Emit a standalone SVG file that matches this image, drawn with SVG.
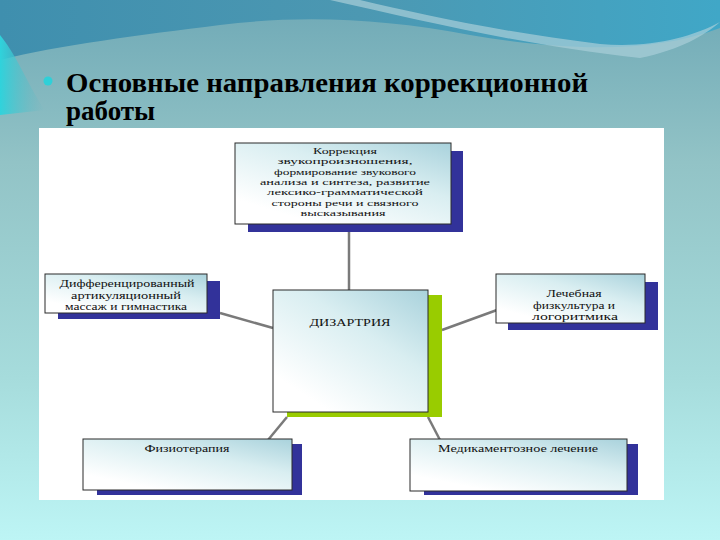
<svg xmlns="http://www.w3.org/2000/svg" width="720" height="540" viewBox="0 0 720 540">
<defs>
<linearGradient id="bg" x1="0" y1="0" x2="0" y2="1">
<stop offset="0" stop-color="#6fa9b6"/>
<stop offset="0.3" stop-color="#92c3c6"/>
<stop offset="0.7" stop-color="#a6dcdc"/>
<stop offset="1" stop-color="#bdf5f5"/>
</linearGradient>
<linearGradient id="wave" x1="0" y1="0" x2="1" y2="0">
<stop offset="0" stop-color="#3f8fae"/>
<stop offset="0.5" stop-color="#4c98b2"/>
<stop offset="1" stop-color="#40a7c7"/>
</linearGradient>
<linearGradient id="cyan" x1="0" y1="0" x2="1" y2="0">
<stop offset="0" stop-color="#2fd3dc"/>
<stop offset="1" stop-color="#5fb5c0" stop-opacity="0"/>
</linearGradient>
<linearGradient id="box" x1="1" y1="0" x2="0.25" y2="0.9">
<stop offset="0" stop-color="#a9d2dc"/>
<stop offset="0.45" stop-color="#d9eef1"/>
<stop offset="1" stop-color="#ffffff"/>
</linearGradient>
<style>
.box{fill:url(#box);stroke:#2a2a2a;stroke-width:1}
.sh{fill:#32329a}
.shg{fill:#99cc00}
.t{font-family:"Liberation Serif","DejaVu Serif",serif;font-size:10px;fill:#111;text-anchor:middle}
.ts{font-size:9px}
.c{stroke:#7a7a7a;stroke-width:2.5;fill:none}
.title{font-family:"Liberation Serif","DejaVu Serif",serif;font-weight:bold;font-size:27px;fill:#000}
</style>
</defs>
<rect width="720" height="540" fill="url(#bg)"/>
<path d="M0 0 H720 V28 C650 55 560 50 470 35 C380 18 300 15 220 25 C140 35 60 45 0 60 Z" fill="url(#wave)"/>
<path d="M330 0 C420 20 520 45 640 58 C680 50 705 35 720 22 C690 38 650 48 600 44 C500 32 420 14 360 0 Z" fill="#a9cfd8" opacity="0.7"/>
<path d="M0 35 C20 60 30 90 45 110 L0 115 Z" fill="url(#cyan)"/>
<circle cx="48" cy="81" r="4.5" fill="#2fd0d8"/>
<text class="title" x="66" y="92" textLength="522" lengthAdjust="spacingAndGlyphs">Основные направления коррекционной</text>
<text class="title" x="66" y="120">работы</text>
<rect x="39" y="128" width="625" height="372" fill="#ffffff"/>
<g id="connectors">
<line class="c" x1="349" y1="224" x2="349" y2="290"/>
<line class="c" x1="220" y1="313" x2="273" y2="328"/>
<line class="c" x1="442" y1="330" x2="497" y2="310"/>
<line class="c" x1="287" y1="417" x2="268" y2="440"/>
<line class="c" x1="428" y1="417" x2="440" y2="440"/>
</g>
<g id="node-correction">
<rect class="sh" x="248" y="151" width="215" height="81"/>
<rect class="box" x="235" y="143" width="216" height="81"/>
<text class="t ts" x="345" y="154" textLength="64" lengthAdjust="spacingAndGlyphs">Коррекция</text>
<text class="t ts" x="345" y="164.3" textLength="135" lengthAdjust="spacingAndGlyphs">звукопроизношения,</text>
<text class="t ts" x="345" y="174.6" textLength="142" lengthAdjust="spacingAndGlyphs">формирование звукового</text>
<text class="t ts" x="345" y="184.9" textLength="170" lengthAdjust="spacingAndGlyphs">анализа и синтеза, развитие</text>
<text class="t ts" x="345" y="195.2" textLength="156" lengthAdjust="spacingAndGlyphs">лексико-грамматической</text>
<text class="t ts" x="345" y="205.5" textLength="147" lengthAdjust="spacingAndGlyphs">стороны речи и связного</text>
<text class="t ts" x="343" y="215.8" textLength="85" lengthAdjust="spacingAndGlyphs">высказывания</text>
</g>
<g id="node-massage">
<rect class="sh" x="58" y="281" width="162" height="38"/>
<rect class="box" x="45" y="274" width="162" height="39"/>
<text class="t" x="127" y="287" textLength="135" lengthAdjust="spacingAndGlyphs">Дифференцированный</text>
<text class="t" x="126" y="298.5" textLength="110" lengthAdjust="spacingAndGlyphs">артикуляционный</text>
<text class="t" x="126" y="310" textLength="122" lengthAdjust="spacingAndGlyphs">массаж и гимнастика</text>
</g>
<g id="node-lfk">
<rect class="sh" x="508" y="282" width="150" height="48"/>
<rect class="box" x="496" y="274" width="149" height="49"/>
<text class="t" x="574" y="297" textLength="55" lengthAdjust="spacingAndGlyphs">Лечебная</text>
<text class="t" x="574" y="308.5" textLength="82" lengthAdjust="spacingAndGlyphs">физкультура и</text>
<text class="t" x="575" y="320" textLength="86" lengthAdjust="spacingAndGlyphs">логоритмика</text>
</g>
<g id="node-dysarthria">
<rect class="shg" x="287" y="295" width="155" height="122"/>
<rect class="box" x="273" y="290" width="155" height="122"/>
<text class="t" x="350" y="326" textLength="81" lengthAdjust="spacingAndGlyphs">ДИЗАРТРИЯ</text>
</g>
<g id="node-physio">
<rect class="sh" x="97" y="444" width="205" height="51"/>
<rect class="box" x="83" y="439" width="209" height="51"/>
<text class="t" x="187" y="452" textLength="85" lengthAdjust="spacingAndGlyphs">Физиотерапия</text>
</g>
<g id="node-drugs">
<rect class="sh" x="424" y="444" width="214" height="51"/>
<rect class="box" x="410" y="439" width="217" height="52"/>
<text class="t" x="518" y="452" textLength="160" lengthAdjust="spacingAndGlyphs">Медикаментозное лечение</text>
</g>
</svg>
